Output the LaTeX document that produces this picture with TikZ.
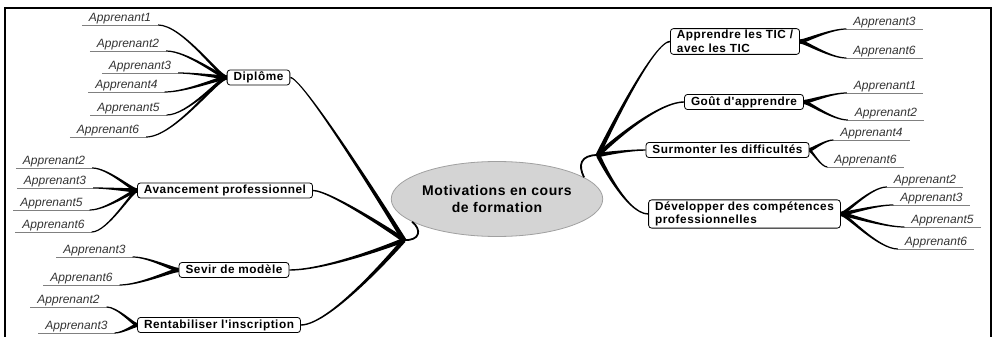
\documentclass[tikz,border=0pt]{standalone}
\usepackage{fontspec}
\setmainfont{Liberation Sans}
\newfontfamily\boxfont[LetterSpace=4.5]{Liberation Sans}
\newfontfamily\centfont[LetterSpace=4]{Liberation Sans}
\usetikzlibrary{calc,shapes.geometric}
\definecolor{leafgray}{HTML}{333333}
\definecolor{ulgray}{HTML}{808080}
\definecolor{ellfill}{HTML}{D4D4D4}
\definecolor{ellline}{HTML}{A0A0A0}
\tikzset{
  leaf/.style={anchor=south, inner xsep=7pt, inner ysep=1pt, text height=9pt, text depth=2.5pt,
    font=\fontsize{12}{14}\selectfont\itshape, text=leafgray},
  topic/.style={draw=black, line width=0.8pt, rounded corners=3pt, fill=white, inner xsep=6.5pt,
    inner ysep=1.8pt, font=\boxfont\bfseries\fontsize{11.8}{13.5}\selectfont, align=left},
  topicone/.style={topic, text height=9pt, text depth=2.5pt, inner ysep=1.8pt},
  central/.style={ellipse, draw=ellline, fill=ellfill, line width=0.8pt, minimum width=189pt,
    minimum height=75pt, inner sep=0pt, align=center, font=\centfont\bfseries\fontsize{14}{17}\selectfont},
  uline/.style={draw=ulgray, line width=0.9pt},
  frameline/.style={line width=2pt},
  squiggle/.style={line width=1.8pt}
}
% tapered S-shaped connector, horizontal tangents at both ends
\newcommand\branch[6]{%
  \fill let \p1=(#1), \p2=(#2), \n1={#5*(\x2-\x1)}, \n2={#6*(\x2-\x1)} in
  (\x1,\y1+#3) .. controls (\x1+\n1,\y1+#3) and (\x2-\n2,\y2+#4) .. (\x2,\y2+#4)
  -- (\x2,\y2-#4) .. controls (\x2-\n2,\y2-#4) and (\x1+\n1,\y1-#3) .. (\x1,\y1-#3) -- cycle;}
% tapered connector from a hub (thick end, straight start) to a box (horizontal end)
\newcommand\hubbranch[5]{%
  \fill let \p1=(#1), \p2=(#2), \n1={#5*(\x2-\x1)}, \n2={sign(\x2-\x1)*#4} in
  ($(#1)!#3!90:(#2)$) .. controls ($(#1)!#3!90:(#2)$) and (\x2-\n1,\y2+\n2) .. (\x2,\y2+\n2)
  -- (\x2,\y2-\n2) .. controls (\x2-\n1,\y2-\n2) and ($(#1)!#3!-90:(#2)$) .. ($(#1)!#3!-90:(#2)$) -- cycle;}
\begin{document}
\begin{tikzpicture}[x=1pt,y=-1pt]
\useasboundingbox (0,0) rectangle (994,337);
\draw[frameline] (5,337) -- (5,8.5) -- (991,8.5) -- (991,337);

% central
\node[central] (central) at (497,199) {Motivations en cours\\de formation};
\coordinate (lh) at (404,240);
\coordinate (rh) at (598,155);

% topics
\node[topicone] (dip) at (258.5,77.5) {Diplôme};
\node[topicone] (avp) at (225,190.5) {Avancement professionnel};
\node[topicone] (sev) at (234,270) {Sevir de modèle};
\node[topicone] (ren) at (219,325) {Rentabiliser l'inscription};
\node[topic] (tic) at (735,41.5) {Apprendre les TIC /\\avec les TIC};
\node[topicone] (gou) at (744,102) {Goût d'apprendre};
\node[topicone] (sur) at (727.5,150) {Surmonter les difficultés};
\node[topic] (dev) at (744.5,214) {Développer des compétences\\professionnelles};

% leaves
\node[leaf] (d1) at (120,25) {Apprenant1};
\node[leaf] (d2) at (128,51) {Apprenant2};
\node[leaf] (d3) at (140,73) {Apprenant3};
\node[leaf] (d4) at (126.5,92) {Apprenant4};
\node[leaf] (d5) at (128.5,115) {Apprenant5};
\node[leaf] (d6) at (108,137) {Apprenant6};
\node[leaf] (a2) at (54,168) {Apprenant2};
\node[leaf] (a3) at (55,188) {Apprenant3};
\node[leaf] (a5) at (51.5,210) {Apprenant5};
\node[leaf] (a6) at (53.5,232) {Apprenant6};
\node[leaf] (s3) at (94.5,257) {Apprenant3};
\node[leaf] (s6) at (81.5,285) {Apprenant6};
\node[leaf] (r2) at (68.5,307) {Apprenant2};
\node[leaf] (r3) at (76.5,333) {Apprenant3};
\node[leaf] (t3) at (884.5,29) {Apprenant3};
\node[leaf] (t6) at (884.5,58) {Apprenant6};
\node[leaf] (g1) at (885,93) {Apprenant1};
\node[leaf] (g2) at (886,120) {Apprenant2};
\node[leaf] (m4) at (871.5,140) {Apprenant4};
\node[leaf] (m6) at (865.5,167) {Apprenant6};
\node[leaf] (v2) at (925,187) {Apprenant2};
\node[leaf] (v3) at (931.5,205) {Apprenant3};
\node[leaf] (v5) at (942.5,227) {Apprenant5};
\node[leaf] (v6) at (936,249) {Apprenant6};

\foreach \n in {d1,d2,d3,d4,d5,d6,a2,a3,a5,a6,s3,s6,r2,r3,t3,t6,g1,g2,m4,m6,v2,v3,v5,v6}
  \draw[uline] (\n.south west) -- (\n.south east);

% squiggles from the central ellipse to the hubs
\draw[squiggle] (central.195) .. controls +(10,8) and +(16,1) .. (lh);
\draw[squiggle] (central.14) .. controls +(-6,-12) and +(-18,0) .. (rh);

% hub to topics
\hubbranch{lh}{dip.east}{2.3pt}{0.7}{0.12}
\hubbranch{lh}{avp.east}{2.3pt}{0.7}{0.2}
\hubbranch{lh}{sev.east}{2.3pt}{0.7}{0.35}
\hubbranch{lh}{ren.east}{2.3pt}{0.7}{0.3}
\hubbranch{rh}{tic.west}{2.3pt}{0.7}{0.25}
\hubbranch{rh}{gou.west}{2.3pt}{0.7}{0.35}
\hubbranch{rh}{sur.west}{2.3pt}{0.7}{0.4}
\hubbranch{rh}{dev.west}{2.3pt}{0.7}{0.45}

% topics to leaves
\foreach \l in {d1,d2,d3,d4,d5,d6}
  \branch{dip.west}{\l.south east}{2.1pt}{0.6pt}{0.1}{0.35};
\foreach \l in {a2,a3,a5,a6}
  \branch{avp.west}{\l.south east}{2.1pt}{0.6pt}{0.1}{0.35};
\foreach \l in {s3,s6}
  \branch{sev.west}{\l.south east}{2.1pt}{0.6pt}{0.1}{0.35};
\foreach \l in {r2,r3}
  \branch{ren.west}{\l.south east}{2.1pt}{0.6pt}{0.1}{0.35};
\foreach \l in {t3,t6}
  \branch{tic.east}{\l.south west}{2.1pt}{0.6pt}{0.1}{0.35};
\foreach \l in {g1,g2}
  \branch{gou.east}{\l.south west}{2.1pt}{0.6pt}{0.1}{0.35};
\foreach \l in {m4,m6}
  \branch{sur.east}{\l.south west}{2.1pt}{0.6pt}{0.1}{0.35};
\foreach \l in {v2,v3,v5,v6}
  \branch{dev.east}{\l.south west}{2.1pt}{0.6pt}{0.1}{0.35};
\end{tikzpicture}
\end{document}
